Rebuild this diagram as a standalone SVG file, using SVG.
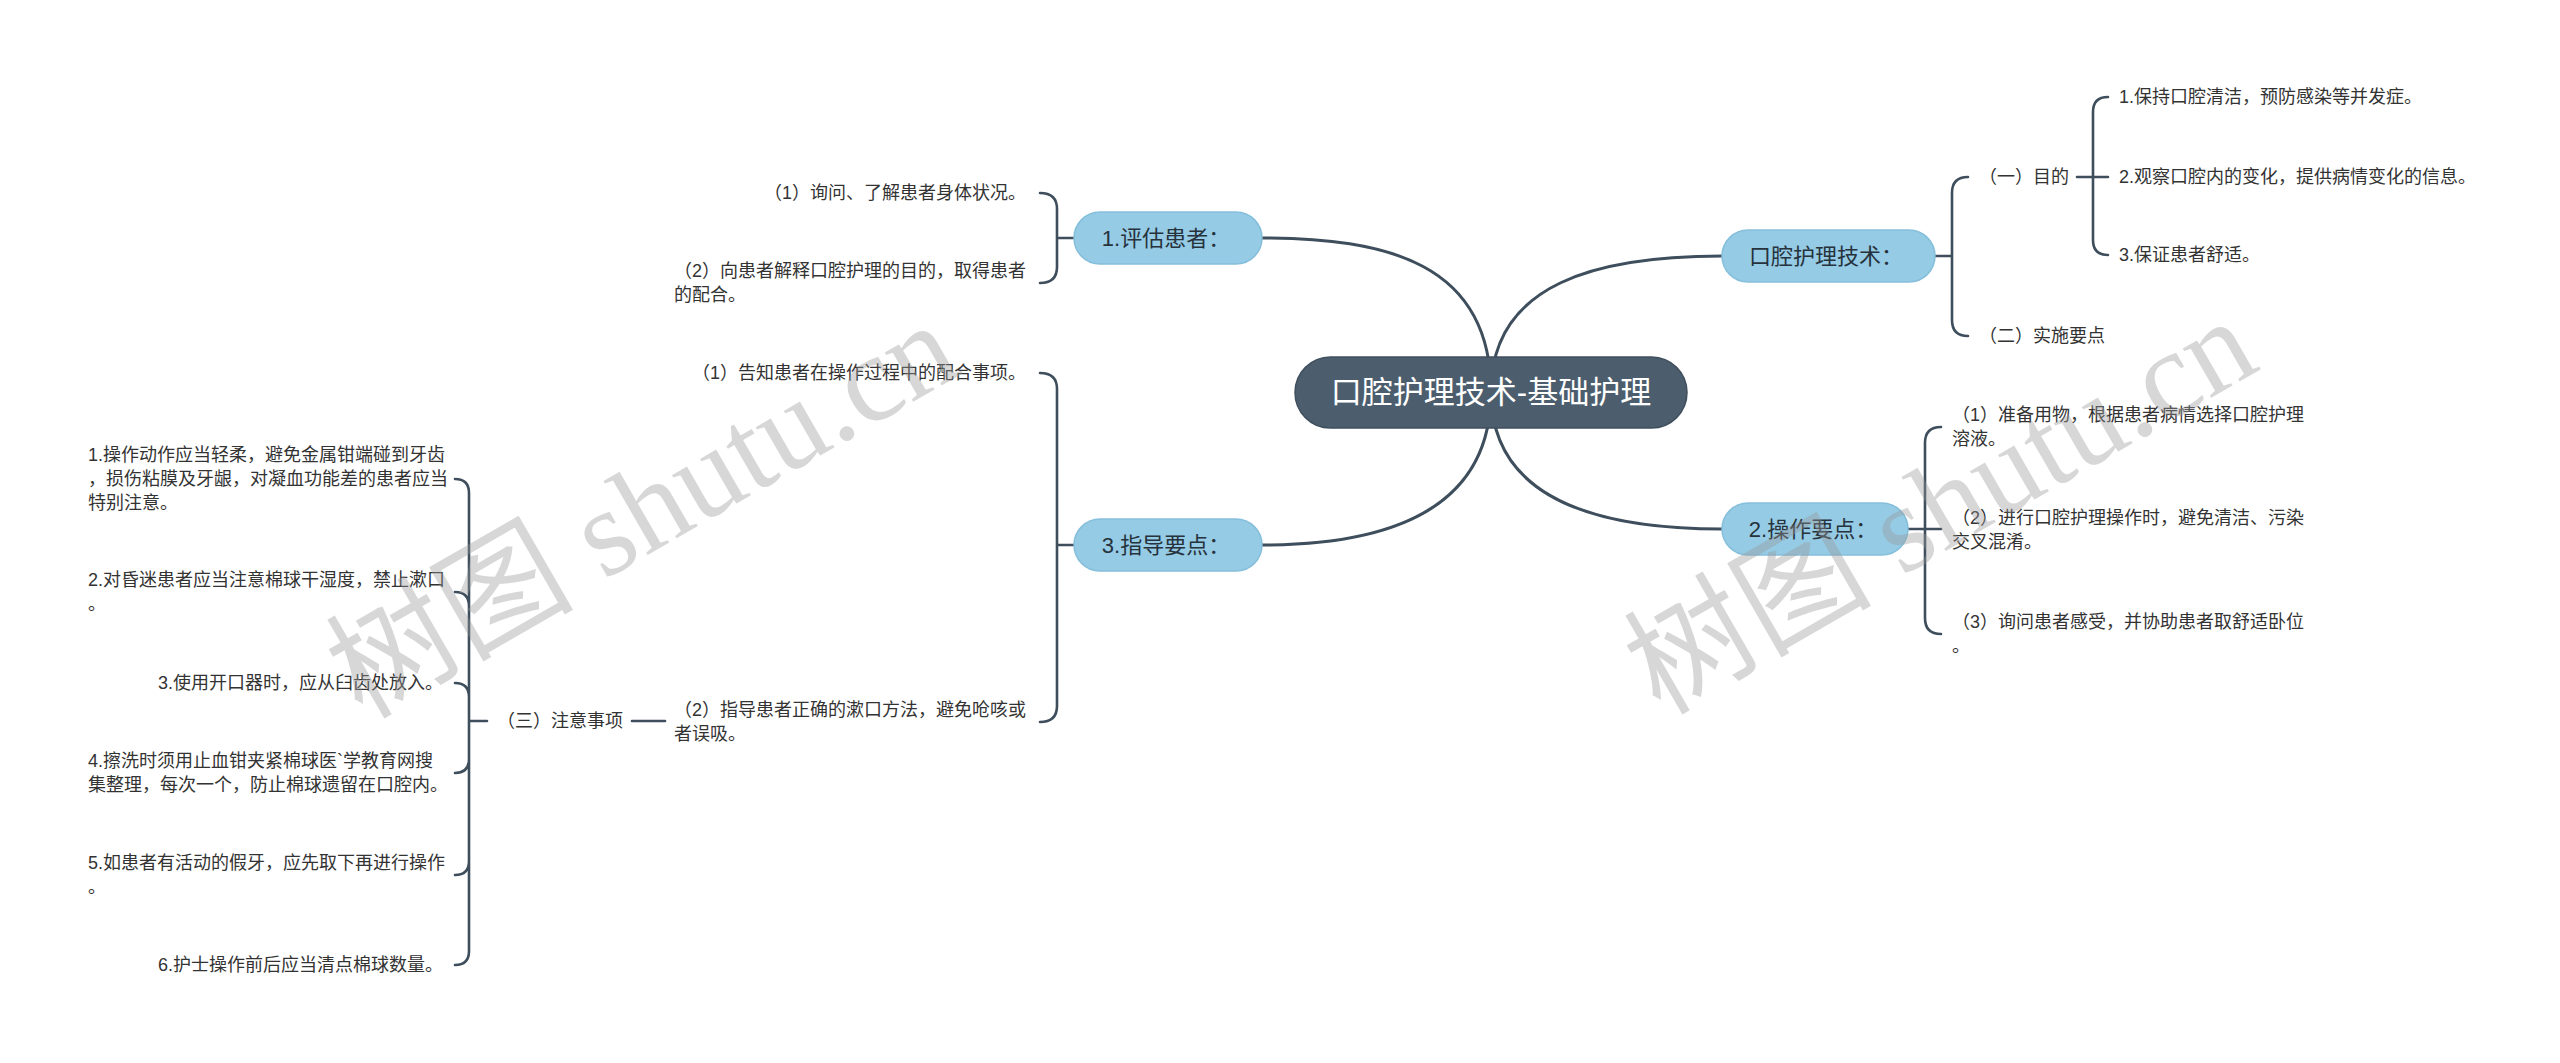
<svg xmlns="http://www.w3.org/2000/svg" width="2560" height="1063" viewBox="0 0 2560 1063">
<defs>
<style>
.t{font-family:"Liberation Sans","Noto Sans CJK SC",sans-serif;font-size:18px;fill:#333;dominant-baseline:central}
.e{text-anchor:end}
.b{font-family:"Liberation Sans","Noto Sans CJK SC",sans-serif;font-size:22px;fill:#26323c;text-anchor:middle;dominant-baseline:central}
.r{font-family:"Liberation Sans","Noto Sans CJK SC",sans-serif;font-size:31px;fill:#fff;text-anchor:middle;dominant-baseline:central}
.pill{fill:#95cbe4;stroke:#85bfdb;stroke-width:1.5}
.root{fill:#4c5e6e;stroke:#3f4f5e;stroke-width:1.5}
.c{fill:none;stroke:#3e4e5c;stroke-width:3;stroke-linecap:round}
.k{fill:none;stroke:#3e4e5c;stroke-width:2.6;stroke-linecap:round}
.wm{font-family:"Liberation Serif","Noto Sans CJK SC",serif;font-size:124px;fill:#999;opacity:0.38}
</style>
</defs>
<rect width="2560" height="1063" fill="#fff"/>
<g id="connectors">
<path class="c" d="M1491 392 C1491 262 1385 238 1262 238"/>
<path class="c" d="M1491 392 C1491 282 1600 256 1722 256"/>
<path class="c" d="M1491 392 C1491 512 1385 545 1262 545"/>
<path class="c" d="M1491 392 C1491 500 1600 529 1722 529"/>
<path class="k" d="M1074 238 H1057 M1040 193 Q1057 193 1057 209 V267 Q1057 283 1040 283"/>
<path class="k" d="M1074 545 H1057 M1040 373 Q1057 373 1057 389 V706 Q1057 722 1040 722"/>
<path class="k" d="M665 721 H632"/>
<path class="k" d="M487 721 H469 M455 479 Q469 479 469 493 V951 Q469 965 455 965 M455 592 Q469 592 469 606 M455 683 Q469 683 469 697 M455 773 Q469 773 469 759 M455 875 Q469 875 469 861"/>
<path class="k" d="M1935 256 H1952 M1968 177 Q1952 177 1952 193 V320 Q1952 336 1968 336"/>
<path class="k" d="M2077 177 H2108 M2108 97 Q2093 97 2093 112 V240 Q2093 255 2108 255"/>
<path class="k" d="M1908 529 H1941 M1941 427 Q1925 427 1925 443 V618 Q1925 634 1941 634"/>
</g>
<g id="root">
<rect class="root" x="1295" y="357" width="392" height="71" rx="35.5"/>
<text class="r" x="1491" y="392">口腔护理技术-基础护理</text>
</g>
<g id="n-pinggu">
<rect class="pill" x="1074" y="212" width="188" height="52" rx="26"/>
<text class="b" x="1166" y="238">1.评估患者：</text>
</g>
<g id="n-pinggu-1"><text class="t e" x="1026" y="193">（1）询问、了解患者身体状况。</text></g>
<g id="n-pinggu-2"><text class="t" x="674" y="271">（2）向患者解释口腔护理的目的，取得患者</text><text class="t" x="674" y="295">的配合。</text></g>
<g id="n-zhidao">
<rect class="pill" x="1074" y="519" width="188" height="52" rx="26"/>
<text class="b" x="1166" y="545">3.指导要点：</text>
</g>
<g id="n-zhidao-1"><text class="t e" x="1026" y="373">（1）告知患者在操作过程中的配合事项。</text></g>
<g id="n-zhidao-2"><text class="t" x="674" y="710">（2）指导患者正确的漱口方法，避免呛咳或</text><text class="t" x="674" y="734">者误吸。</text></g>
<g id="n-zhuyi"><text class="t" x="497" y="721">（三）注意事项</text></g>
<g id="n-zhuyi-1"><text class="t" x="88" y="455">1.操作动作应当轻柔，避免金属钳端碰到牙齿</text><text class="t" x="88" y="479">，损伤粘膜及牙龈，对凝血功能差的患者应当</text><text class="t" x="88" y="503">特别注意。</text></g>
<g id="n-zhuyi-2"><text class="t" x="88" y="580">2.对昏迷患者应当注意棉球干湿度，禁止漱口</text><text class="t" x="88" y="604">。</text></g>
<g id="n-zhuyi-3"><text class="t e" x="443" y="683">3.使用开口器时，应从臼齿处放入。</text></g>
<g id="n-zhuyi-4"><text class="t" x="88" y="761">4.擦洗时须用止血钳夹紧棉球医`学教育网搜</text><text class="t" x="88" y="785">集整理，每次一个，防止棉球遗留在口腔内。</text></g>
<g id="n-zhuyi-5"><text class="t" x="88" y="863">5.如患者有活动的假牙，应先取下再进行操作</text><text class="t" x="88" y="887">。</text></g>
<g id="n-zhuyi-6"><text class="t e" x="443" y="965">6.护士操作前后应当清点棉球数量。</text></g>
<g id="n-jishu">
<rect class="pill" x="1722" y="230" width="213" height="52" rx="26"/>
<text class="b" x="1826" y="256">口腔护理技术：</text>
</g>
<g id="n-mudi"><text class="t" x="1979" y="177">（一）目的</text></g>
<g id="n-mudi-1"><text class="t" x="2119" y="97">1.保持口腔清洁，预防感染等并发症。</text></g>
<g id="n-mudi-2"><text class="t" x="2119" y="177">2.观察口腔内的变化，提供病情变化的信息。</text></g>
<g id="n-mudi-3"><text class="t" x="2119" y="255">3.保证患者舒适。</text></g>
<g id="n-shishi"><text class="t" x="1979" y="336">（二）实施要点</text></g>
<g id="n-caozuo">
<rect class="pill" x="1722" y="503" width="186" height="52" rx="26"/>
<text class="b" x="1813" y="529">2.操作要点：</text>
</g>
<g id="n-caozuo-1"><text class="t" x="1952" y="415">（1）准备用物，根据患者病情选择口腔护理</text><text class="t" x="1952" y="439">溶液。</text></g>
<g id="n-caozuo-2"><text class="t" x="1952" y="518">（2）进行口腔护理操作时，避免清洁、污染</text><text class="t" x="1952" y="542">交叉混淆。</text></g>
<g id="n-caozuo-3"><text class="t" x="1952" y="622">（3）询问患者感受，并协助患者取舒适卧位</text><text class="t" x="1952" y="646">。</text></g>
<g id="watermark">
<text class="wm" transform="translate(362 720) rotate(-30)">树图 shutu.cn</text>
<text class="wm" transform="translate(1660 716) rotate(-30)">树图 shutu.cn</text>
</g>
</svg>
